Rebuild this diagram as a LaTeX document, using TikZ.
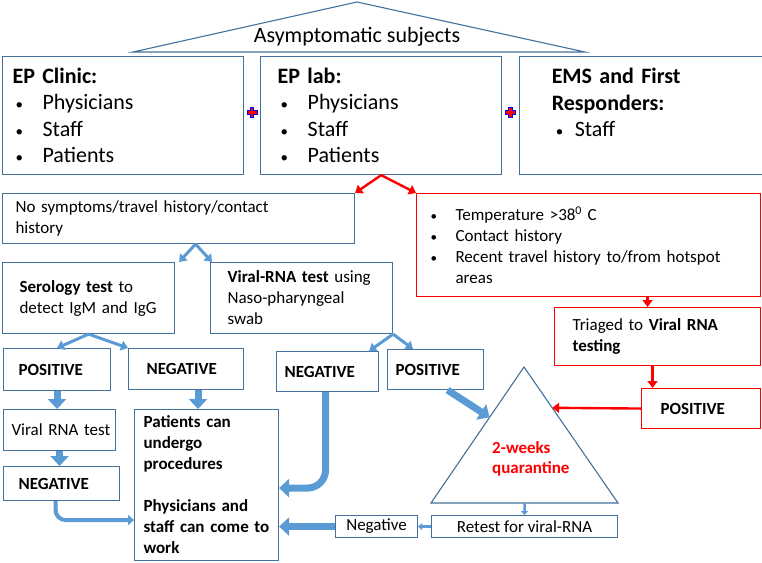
\documentclass[tikz,border=0pt]{standalone}
\usepackage{fontspec}
\setmainfont{Carlito}
\usetikzlibrary{positioning,arrows.meta,calc}
\definecolor{boxblue}{HTML}{41719C}
\definecolor{arrblue}{HTML}{5B9BD5}
\newcommand{\smallbul}{{\fontsize{15}{15}\selectfont\textbullet}}
\newcommand{\itm}[1]{\makebox[30pt][l]{\hspace{3pt}\smallbul}#1}
\newcommand{\ritm}[1]{\makebox[25pt][l]{{\fontsize{13}{13}\selectfont\textbullet}}#1}

\begin{document}
\begin{tikzpicture}[
    x=1pt, y=-1pt,
    every node/.style={font=\fontsize{17}{21}\selectfont},
    big/.style={font=\fontsize{22}{26.5}\selectfont},
    bluebox/.style={draw=boxblue, line width=1.1pt, anchor=north west, align=left, inner ysep=2pt},
    redbox/.style={draw=red, line width=1.1pt, anchor=north west, align=left, inner ysep=2pt},
    boxsize/.style n args={3}{minimum width=#1, minimum height=#2, inner xsep=#3, text width=#1-2*#3},
    redarr/.style={draw=red, line width=2.4pt, -{Triangle[length=7pt,width=10pt]}},
    splitarr/.style={draw=arrblue, line width=3pt, -{Triangle[length=7pt,width=10pt]}},
    fatarr/.style={draw=arrblue, line width=7pt, -{Triangle[length=10pt,width=18pt]}},
    elbowarr/.style={draw=arrblue, line width=4pt, -{Triangle[length=6pt,width=10pt]}},
    thinarr/.style={draw=arrblue, line width=2.5pt, -{Triangle[length=4pt,width=7pt]}},
    plus/.style={fill=red, draw=blue, line width=1pt}
]
\useasboundingbox (0,0) rectangle (762,562);

% top row
\draw[boxblue, line width=1.1pt] (133,52) -- (357,2) -- (585,52) -- cycle;
\node[big] (subjects) at (357,37) {Asymptomatic subjects};

\node[bluebox, boxsize={241}{118}{10}, big] (clinic) at (2,56)
    {\textbf{EP Clinic:}\\ \itm{Physicians}\\ \itm{Staff}\\ \itm{Patients}};
\node[bluebox, boxsize={241}{118}{17}, big, right=16pt of clinic] (lab)
    {\textbf{EP lab:}\\ \itm{Physicians}\\ \itm{Staff}\\ \itm{Patients}};
\node[bluebox, boxsize={243}{118}{32}, big, right=17pt of lab] (ems)
    {\textbf{EMS and First}\\ \textbf{Responders:}\\ \makebox[23pt][l]{\hspace{4pt}\smallbul}Staff\\ ~};

\foreach \a/\b in {clinic/lab, lab/ems}
    \filldraw[plus] ($(\a.east)!0.5!(\b.west)$) ++(-1.8,-8) -- ++(3.6,0) -- ++(0,3.2) -- ++(3.2,0)
        -- ++(0,3.6) -- ++(-3.2,0) -- ++(0,3.2) -- ++(-3.6,0) -- ++(0,-3.2) -- ++(-3.2,0)
        -- ++(0,-3.6) -- ++(3.2,0) -- cycle;

% second row
\node[bluebox, boxsize={352}{50}{13}] (nosym) at (2,193)
    {No symptoms/travel history/contact\\history};
\node[redbox, boxsize={344}{103}{14}] (fever) at (416,193)
    {\ritm{Temperature >38\textsuperscript{0} C}\\ \ritm{Contact history}\\
     \ritm{Recent travel history to/from hotspot}\\ \hspace*{25pt}areas};

% tests
\node[bluebox, boxsize={172}{71}{17}] (sero) at (2,262)
    {\textbf{Serology test} to\\detect~IgM~and~IgG};
\node[bluebox, boxsize={182}{71}{17}] (viral) at (210,262)
    {\textbf{Viral-RNA test} using\\Naso-pharyngeal\\swab};
\node[redbox, boxsize={206}{58}{18}] (triaged) at (554,307)
    {Triaged to \textbf{Viral RNA}\\ \textbf{testing}};

% results
\node[bluebox, boxsize={107}{42}{15}] (pos1) at (3,348) {\textbf{POSITIVE}};
\node[bluebox, boxsize={115}{41}{18}] (neg1) at (128,348) {\textbf{NEGATIVE}};
\node[bluebox, boxsize={102}{40}{8}] (neg2) at (276,351) {\textbf{NEGATIVE}};
\node[bluebox, boxsize={96}{40}{8}] (pos2) at (387,349) {\textbf{POSITIVE}};
\node[redbox, boxsize={119}{40}{19}] (redpos) at (641,388) {\textbf{POSITIVE}};

\node[bluebox, boxsize={112}{41}{8}] (rnatest) at (3,409) {Viral~RNA~test};
\node[bluebox, boxsize={116}{34}{15}] (neg3) at (3,466) {\textbf{NEGATIVE}};
\node[bluebox, boxsize={144}{151}{9}] (patients) at (134,409)
    {{\bfseries Patients can\\undergo\\procedures\\[21pt] Physicians and\\staff can come to\\work}};

% quarantine
\draw[boxblue, line width=1.1pt] (524,367) coordinate (qtop) -- (431,503) coordinate (qleft)
    -- (618,503) coordinate (qright) -- cycle;
\node[anchor=west, text width=90pt, align=left, inner sep=0pt, text=red,
    font=\bfseries\fontsize{17}{20}\selectfont] (quar) at (492,459) {2-weeks\\quarantine};
\node[bluebox, align=center, minimum width=186, minimum height=22, inner sep=1pt] (retest) at (431,515)
    {Retest for viral-RNA};
\node[bluebox, align=center, minimum width=82, minimum height=22, inner sep=1pt] (negsm) at (335,515)
    {Negative};

% arrows
\draw[redarr] (lab.south) -- (nosym.north east);
\draw[redarr] (lab.south) -- (fever.north west);
\draw[redarr] ([xshift=-10pt]triaged.north |- fever.south) -- ([xshift=-10pt]triaged.north);
\draw[redarr] ([xshift=-5pt]triaged.south) -- ([xshift=-5pt]triaged.south |- redpos.north);
\draw[redarr] (redpos.west) -- ($(qtop)!0.30!(qright)$);

\coordinate (split1) at ([xshift=17pt]nosym.south);
\draw[splitarr] (split1) -- ([xshift=4pt]sero.north east);
\draw[splitarr] (split1) -- ([xshift=2pt]viral.north west);
\draw[splitarr] (sero.south) -- (pos1.north);
\draw[splitarr] (sero.south) -- (neg1.north west);
\draw[splitarr] (viral.south east) -- ([xshift=-10pt]neg2.north east);
\draw[splitarr] (viral.south east) -- ([xshift=26pt]pos2.north west);

\draw[fatarr] (pos1.south) -- (pos1.south |- rnatest.north);
\draw[fatarr] (rnatest.south) -- (rnatest.south |- neg3.north);
\draw[fatarr] ([xshift=12pt]neg1.south) -- ([xshift=12pt]neg1.south |- patients.north);
\draw[fatarr, rounded corners=18pt] ([xshift=-2pt]neg2.south) |- ([yshift=-3pt]patients.east);
\draw[fatarr] (negsm.west) -- (negsm.west -| patients.east);
\draw[fatarr] ([xshift=12pt]pos2.south) -- ($(qtop)!0.37!(qleft)$);
\draw[elbowarr, rounded corners=10pt] ([xshift=-6pt]neg3.south) |- ([yshift=-35pt]patients.west);
\draw[thinarr] ($(qleft)!0.5!(qright)$) -- (retest.north);
\draw[thinarr] (retest.west) -- (negsm.east);

\end{tikzpicture}
\end{document}
